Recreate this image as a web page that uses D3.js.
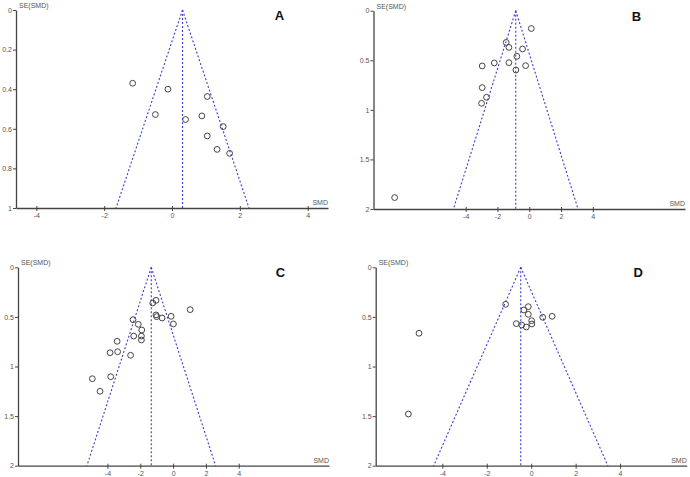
<!DOCTYPE html>
<html>
<head>
<meta charset="utf-8">
<script src="https://cdn.jsdelivr.net/npm/d3@7"></script>
<style>
  body { margin: 0; background: #fff; }
  svg { display: block; }
  .tick text { font-family: "Liberation Sans", Arial, sans-serif; font-size: 7px; fill: #555; }
  .lbl { font-family: "Liberation Sans", Arial, sans-serif; font-size: 7px; fill: #555; }
  .panel-letter { font-family: "Liberation Sans", Arial, sans-serif; font-size: 13px; font-weight: bold; fill: #111; }
</style>
</head>
<body>
<script>
// study points: [SMD, SE(SMD)]
const pointsA = [[-1.16,0.37],[-0.12,0.40],[1.04,0.437],[-0.49,0.528],[0.40,0.553],[0.88,0.535],
                 [1.51,0.589],[1.04,0.636],[1.33,0.704],[1.70,0.724]];
const pointsB = [[0.13,0.18],[-1.45,0.32],[-1.28,0.37],[-0.42,0.386],[-0.78,0.46],[-2.20,0.527],
                 [-1.28,0.524],[-2.96,0.557],[-0.23,0.554],[-0.84,0.598],[-2.96,0.776],[-2.69,0.873],
                 [-3.0,0.934],[-8.47,1.885]];
const pointsC = [[-1.04,0.333],[-1.24,0.36],[1.04,0.427],[-1.04,0.48],[-1.0,0.497],[-0.67,0.511],
                 [-0.12,0.494],[0.02,0.571],[-2.44,0.528],[-2.12,0.575],[-1.91,0.632],[-2.40,0.693],
                 [-1.93,0.693],[-1.93,0.733],[-3.41,0.746],[-3.84,0.861],[-3.38,0.851],[-2.59,0.887],
                 [-3.80,1.103],[-4.92,1.123],[-4.45,1.25]];
const pointsD = [[-1.15,0.373],[-0.13,0.397],[-0.33,0.43],[-0.13,0.474],[0.52,0.504],[0.94,0.494],
                 [0.02,0.538],[-0.67,0.568],[-0.43,0.581],[0.03,0.571],[-0.22,0.602],[-5.05,0.665],
                 [-5.53,1.479]];

// pooled SMD (centre of funnel)
const pooled = { A: 0.31, B: -0.85, C: -1.33, D: -0.47 };

const xTicks = [-4, -2, 0, 2, 4];
const yTicksA = [0, 0.2, 0.4, 0.6, 0.8, 1];
const yTicksBCD = [0, 0.5, 1, 1.5, 2];

const xDomains = { A: [-4.6, 4.6], B: [-9.8, 9.8], C: [-9.45, 9.5], D: [-7, 7] };

const W = 690, H = 477;

// pixel box of each panel
const panels = [
  { key: 'A', pts: pointsA, yTicks: yTicksA, box: { l: 16, r: 328, t: 10, b: 208 } },
  { key: 'B', pts: pointsB, yTicks: yTicksBCD, box: { l: 373.5, r: 685, t: 10.7, b: 209 } },
  { key: 'C', pts: pointsC, yTicks: yTicksBCD, box: { l: 18, r: 329, t: 267.3, b: 465.7 } },
  { key: 'D', pts: pointsD, yTicks: yTicksBCD, box: { l: 375.7, r: 686.7, t: 267.3, b: 465.7 } }
];

const svg = d3.select('body').append('svg')
  .attr('width', W).attr('height', H);

function drawPanel(p) {
  const yMax = p.yTicks[p.yTicks.length - 1];
  const x = d3.scaleLinear().domain(xDomains[p.key]).range([p.box.l, p.box.r]);
  const y = d3.scaleLinear().domain([0, yMax]).range([p.box.t, p.box.b]);
  const g = svg.append('g');
  const c = pooled[p.key];

  // funnel (95% limits) + pooled line
  const funnel = [
    [[c, 0], [c - 1.96 * yMax, yMax]],
    [[c, 0], [c + 1.96 * yMax, yMax]],
    [[c, 0], [c, yMax]]
  ];
  g.selectAll('line.funnel')
    .data(funnel)
    .enter().append('line')
    .attr('class', 'funnel')
    .attr('x1', d => x(d[0][0])).attr('y1', d => y(d[0][1]))
    .attr('x2', d => x(d[1][0])).attr('y2', d => y(d[1][1]))
    .attr('stroke', '#3b3bd6')
    .attr('stroke-width', 1.1)
    .attr('stroke-dasharray', '2,2');

  // axes
  const yAxis = g.append('g')
    .attr('transform', `translate(${p.box.l},0)`)
    .call(d3.axisLeft(y).tickValues(p.yTicks).tickSize(3).tickSizeOuter(0).tickFormat(d => String(d)).tickPadding(1));
  const xAxis = g.append('g')
    .attr('transform', `translate(0,${p.box.b})`)
    .call(d3.axisBottom(x).tickValues(xTicks).tickSize(3).tickSizeOuter(0).tickFormat(d => String(d)).tickPadding(2));
  [yAxis, xAxis].forEach(a => {
    a.select('.domain').attr('stroke', '#444').attr('stroke-width', 1.3);
    a.selectAll('.tick line').attr('stroke', '#444');
  });
  xAxis.selectAll('.tick line').attr('y1', -2);

  // study points
  g.selectAll('circle.pt')
    .data(p.pts)
    .enter().append('circle')
    .attr('class', 'pt')
    .attr('cx', d => x(d[0]))
    .attr('cy', d => y(d[1]))
    .attr('r', 2.9)
    .attr('fill', 'none')
    .attr('stroke', '#444')
    .attr('stroke-width', 1);

  // axis titles
  g.append('text').attr('class', 'lbl')
    .attr('x', p.box.l + 3).attr('y', p.box.t - 2)
    .text('SE(SMD)');
  g.append('text').attr('class', 'lbl')
    .attr('x', p.box.r).attr('y', p.box.b - 3)
    .attr('text-anchor', 'end')
    .text('SMD');

  g.append('text').attr('class', 'panel-letter')
    .attr('x', p.box.l + (p.box.r - p.box.l) * 0.844)
    .attr('y', p.box.t + 10)
    .attr('text-anchor', 'middle')
    .text(p.key);
}

panels.forEach(drawPanel);
</script>
</body>
</html>
